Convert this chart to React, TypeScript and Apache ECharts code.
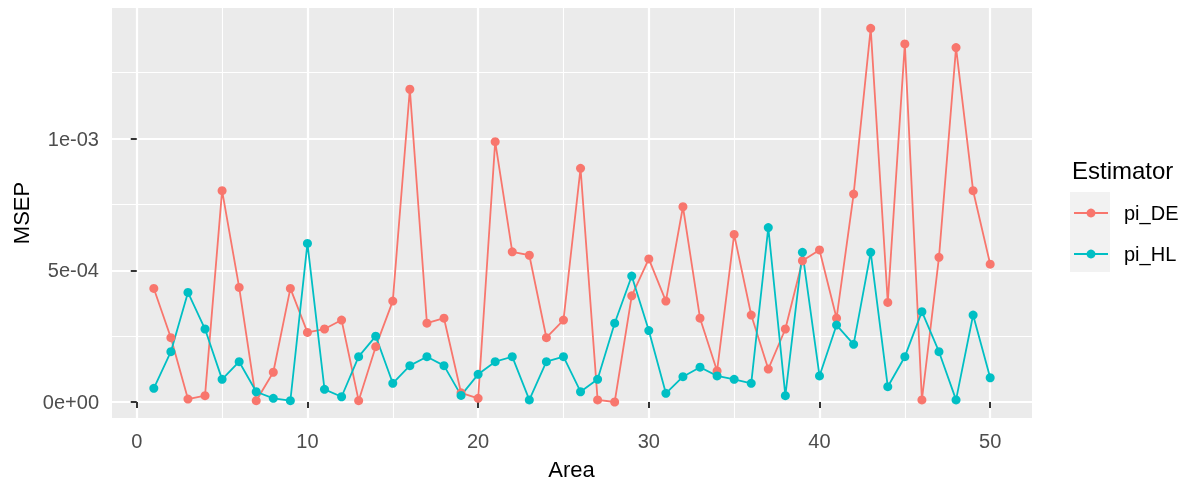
import React, { useEffect, useRef } from "react";
import * as echarts from "echarts";

const AREAS = [
  1, 2, 3, 4, 5, 6, 7, 8, 9, 10, 11, 12, 13, 14, 15, 16, 17, 18, 19, 20, 21, 22, 23, 24, 25,
  26, 27, 28, 29, 30, 31, 32, 33, 34, 35, 36, 37, 38, 39, 40, 41, 42, 43, 44, 45, 46, 47, 48, 49, 50,
];

const PI_DE = [
  4.31e-4, 2.44e-4, 0.11e-4, 0.24e-4, 8.02e-4, 4.35e-4, 0.05e-4, 1.13e-4, 4.31e-4, 2.64e-4,
  2.77e-4, 3.11e-4, 0.05e-4, 2.1e-4, 3.83e-4, 11.87e-4, 2.99e-4, 3.18e-4, 0.35e-4, 0.14e-4,
  9.88e-4, 5.7e-4, 5.57e-4, 2.44e-4, 3.11e-4, 8.87e-4, 0.08e-4, 0.0, 4.03e-4, 5.43e-4,
  3.83e-4, 7.41e-4, 3.18e-4, 1.18e-4, 6.36e-4, 3.3e-4, 1.25e-4, 2.77e-4, 5.36e-4, 5.77e-4,
  3.18e-4, 7.89e-4, 14.18e-4, 3.78e-4, 13.59e-4, 0.08e-4, 5.49e-4, 13.45e-4, 8.02e-4, 5.23e-4,
];

const PI_HL = [
  0.52e-4, 1.91e-4, 4.16e-4, 2.77e-4, 0.86e-4, 1.53e-4, 0.39e-4, 0.14e-4, 0.05e-4, 6.02e-4,
  0.48e-4, 0.2e-4, 1.72e-4, 2.5e-4, 0.71e-4, 1.38e-4, 1.72e-4, 1.38e-4, 0.25e-4, 1.05e-4,
  1.53e-4, 1.72e-4, 0.08e-4, 1.53e-4, 1.72e-4, 0.39e-4, 0.86e-4, 2.99e-4, 4.78e-4, 2.71e-4,
  0.33e-4, 0.96e-4, 1.32e-4, 0.99e-4, 0.86e-4, 0.71e-4, 6.62e-4, 0.24e-4, 5.68e-4, 0.99e-4,
  2.92e-4, 2.19e-4, 5.68e-4, 0.58e-4, 1.72e-4, 3.43e-4, 1.91e-4, 0.08e-4, 3.3e-4, 0.92e-4,
];

const SERIES_NAMES = ["pi_DE", "pi_HL"];
const SERIES_COLORS = ["#F8766D", "#00BFC4"];

const X_TICKS = [0, 10, 20, 30, 40, 50];
const X_MINOR = [5, 15, 25, 35, 45];
const Y_TICKS = [0, 5e-4, 1e-3];
const Y_TICK_LABELS = ["0e+00", "5e-04", "1e-03"];
const Y_MINOR = [2.5e-4, 7.5e-4, 1.25e-3];

const X_TITLE = "Area";
const Y_TITLE = "MSEP";
const LEGEND_TITLE = "Estimator";

export default function App() {
  const ref = useRef<HTMLDivElement>(null);

  useEffect(() => {
    if (!ref.current) return;
    const chart = echarts.init(ref.current, null, { renderer: "svg" });
    const font = "'Liberation Sans', Arial, sans-serif";
    const X_MIN = -1.45;
    const X_MAX = 52.45;
    const Y_MIN = -0.0607e-3;
    const Y_MAX = 1.4953e-3;

    const tickStyle = { length: 6, lineStyle: { color: "#333333", width: 2 } };
    const majorSplit = { show: true, lineStyle: { color: "#FFFFFF", width: 2.2 } };
    const minorSplit = { show: true, lineStyle: { color: "#FFFFFF", width: 1.1 } };

    const yLabel = (v: number) => {
      const i = Y_TICKS.findIndex((t) => Math.abs(t - v) < 1e-9);
      return i >= 0 ? Y_TICK_LABELS[i] : "";
    };

    const seriesData = [PI_DE, PI_HL];

    chart.setOption({
      animation: false,
      grid: {
        left: 112,
        top: 8,
        width: 920,
        height: 410,
        show: true,
        backgroundColor: "#EBEBEB",
        borderWidth: 0,
        containLabel: false,
        outerBoundsMode: "none",
      },
      xAxis: [
        {
          type: "value",
          min: X_MIN,
          max: X_MAX,
          axisLine: { show: false },
          axisTick: { show: true, ...tickStyle, customValues: X_TICKS },
          axisLabel: {
            show: true,
            customValues: X_TICKS,
            margin: 13,
            fontSize: 20,
            color: "#4D4D4D",
            fontFamily: font,
          },
          splitLine: majorSplit,
        },
        {
          type: "value",
          position: "bottom",
          min: X_MIN,
          max: X_MAX,
          axisLine: { show: false },
          axisTick: { show: false, customValues: X_MINOR },
          axisLabel: { show: false, customValues: X_MINOR },
          splitLine: minorSplit,
        },
      ],
      yAxis: [
        {
          type: "value",
          min: Y_MIN,
          max: Y_MAX,
          axisLine: { show: false },
          axisTick: { show: true, ...tickStyle, customValues: Y_TICKS },
          axisLabel: {
            show: true,
            customValues: Y_TICKS,
            formatter: yLabel,
            margin: 13,
            fontSize: 20,
            color: "#4D4D4D",
            fontFamily: font,
          },
          splitLine: majorSplit,
        },
        {
          type: "value",
          position: "left",
          min: Y_MIN,
          max: Y_MAX,
          axisLine: { show: false },
          axisTick: { show: false, customValues: Y_MINOR },
          axisLabel: { show: false, customValues: Y_MINOR },
          splitLine: minorSplit,
        },
      ],
      legend: {
        data: SERIES_NAMES,
        orient: "vertical",
        left: 1073,
        top: 203,
        padding: 0,
        itemWidth: 34,
        itemHeight: 11,
        itemGap: 21,
        selectedMode: false,
        textStyle: {
          fontSize: 20,
          lineHeight: 20,
          color: "#000000",
          fontFamily: font,
          padding: [0, 0, 0, 11],
        },
      },
      graphic: [
        {
          type: "rect",
          z: 0,
          shape: { x: 1070, y: 192, width: 40, height: 80 },
          style: { fill: "#F2F2F2" },
        },
        {
          type: "text",
          x: 1072,
          y: 170,
          style: {
            text: LEGEND_TITLE,
            fontSize: 24,
            fontFamily: font,
            fill: "#000000",
            align: "left",
            verticalAlign: "middle",
          },
        },
        {
          type: "text",
          x: 571.5,
          y: 469.5,
          style: {
            text: X_TITLE,
            fontSize: 22,
            fontFamily: font,
            fill: "#000000",
            align: "center",
            verticalAlign: "middle",
          },
        },
        {
          type: "text",
          x: 21,
          y: 213,
          rotation: Math.PI / 2,
          style: {
            text: Y_TITLE,
            fontSize: 22,
            fontFamily: font,
            fill: "#000000",
            align: "center",
            verticalAlign: "middle",
          },
        },
      ],
      series: SERIES_NAMES.map((name, si) => ({
        name,
        type: "line",
        xAxisIndex: 0,
        yAxisIndex: 0,
        data: AREAS.map((a, i) => [a, seriesData[si][i]]),
        symbol: "circle",
        symbolSize: 9,
        showSymbol: true,
        showAllSymbol: true,
        clip: false,
        color: SERIES_COLORS[si],
        itemStyle: { color: SERIES_COLORS[si] },
        lineStyle: { color: SERIES_COLORS[si], width: 1.8 },
        emphasis: { disabled: true },
        silent: true,
      })),
    });

    return () => chart.dispose();
  }, []);

  return (
    <div
      ref={ref}
      style={{ position: "fixed", left: 0, top: 0, width: 1189, height: 484 }}
    />
  );
}
